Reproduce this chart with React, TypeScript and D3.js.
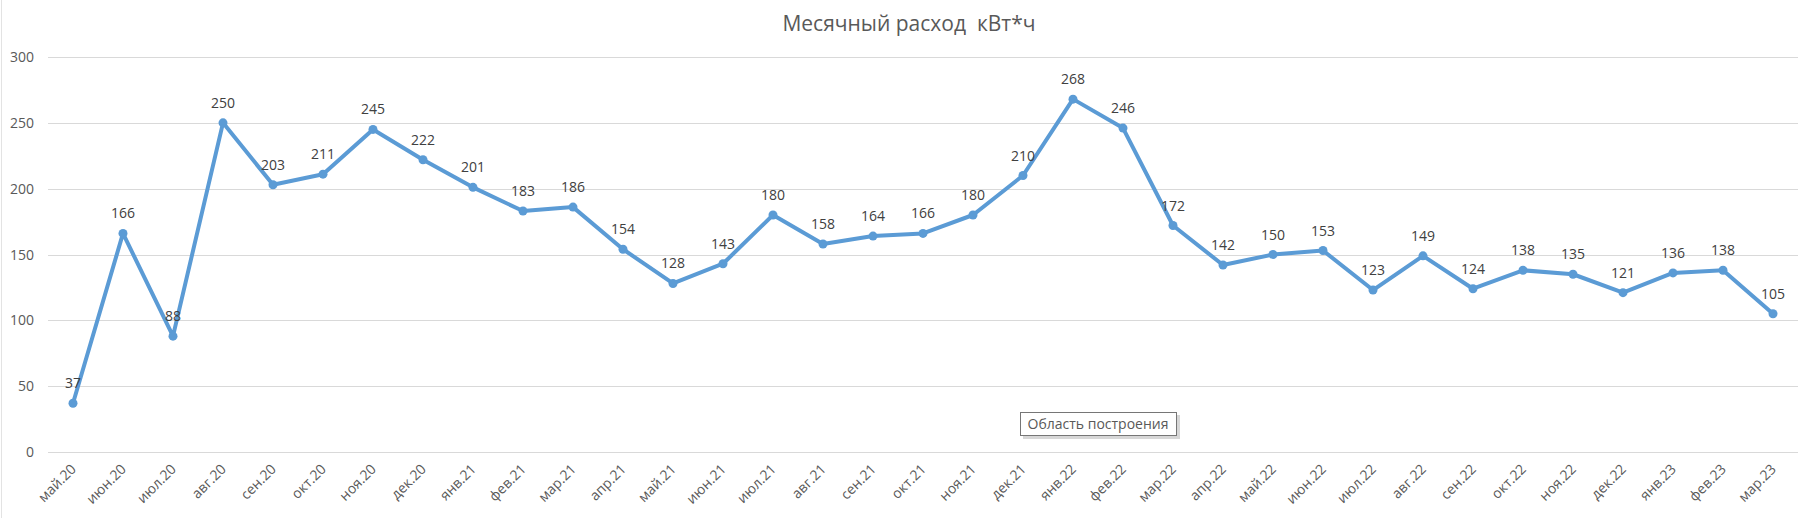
import { useEffect, useRef } from 'react';
import * as d3 from 'd3';

const months = [
  'май.20', 'июн.20', 'июл.20', 'авг.20', 'сен.20', 'окт.20', 'ноя.20', 'дек.20',
  'янв.21', 'фев.21', 'мар.21', 'апр.21', 'май.21', 'июн.21', 'июл.21', 'авг.21',
  'сен.21', 'окт.21', 'ноя.21', 'дек.21', 'янв.22', 'фев.22', 'мар.22', 'апр.22',
  'май.22', 'июн.22', 'июл.22', 'авг.22', 'сен.22', 'окт.22', 'ноя.22', 'дек.22',
  'янв.23', 'фев.23', 'мар.23',
];

const usage = [
  37, 166, 88, 250, 203, 211, 245, 222,
  201, 183, 186, 154, 128, 143, 180, 158,
  164, 166, 180, 210, 268, 246, 172, 142,
  150, 153, 123, 149, 124, 138, 135, 121,
  136, 138, 105,
];

const yTicks = [0, 50, 100, 150, 200, 250, 300];

const title = 'Месячный расход  кВт*ч';
const tooltipText = 'Область построения';

const W = 1815;
const H = 518;

const App = () => {
  const svgRef = useRef<SVGSVGElement | null>(null);

  useEffect(() => {
    if (!svgRef.current) return;
    const svg = d3.select(svgRef.current);
    svg.selectAll('*').remove();

    const margin = { top: 57, right: 17, bottom: 66, left: 48 };
    const font = '"Open Sans", "Noto Sans", sans-serif';

    const x = d3
      .scaleBand<string>()
      .domain(months)
      .range([margin.left, W - margin.right]);

    const y = d3
      .scaleLinear()
      .domain([0, 300])
      .range([H - margin.bottom, margin.top]);

    const cx = (m: string) => (x(m) ?? 0) + x.bandwidth() / 2;

    // left border of chart area
    svg.append('line')
      .attr('x1', 1.5).attr('x2', 1.5)
      .attr('y1', 0).attr('y2', H)
      .attr('stroke', '#e3e3e3');

    // gridlines
    svg.append('g')
      .selectAll('line')
      .data(yTicks)
      .join('line')
      .attr('x1', margin.left)
      .attr('x2', W - margin.right)
      .attr('y1', (d) => Math.round(y(d)) + 0.5)
      .attr('y2', (d) => Math.round(y(d)) + 0.5)
      .attr('stroke', '#d9d9d9')
      .attr('stroke-width', 1);

    // y labels
    svg.append('g')
      .selectAll('text')
      .data(yTicks)
      .join('text')
      .attr('x', margin.left - 14)
      .attr('y', (d) => y(d))
      .attr('dy', '0.36em')
      .attr('text-anchor', 'end')
      .attr('font-family', font)
      .attr('font-size', 14)
      .attr('fill', '#595959')
      .text((d) => d);

    // x labels
    svg.append('g')
      .selectAll('text')
      .data(months)
      .join('text')
      .attr('transform', (d) => `translate(${cx(d) + 4},${y(0) + 18}) rotate(-45)`)
      .attr('text-anchor', 'end')
      .attr('font-family', font)
      .attr('font-size', 14)
      .attr('fill', '#595959')
      .text((d) => d);

    // title
    svg.append('text')
      .attr('x', 909)
      .attr('y', 31)
      .attr('text-anchor', 'middle')
      .attr('font-family', font)
      .attr('font-size', 21)
      .attr('fill', '#595959')
      .style('white-space', 'pre')
      .text(title);

    const line = d3
      .line<number>()
      .x((_, i) => cx(months[i]))
      .y((d) => y(d));

    svg.append('path')
      .datum(usage)
      .attr('fill', 'none')
      .attr('stroke', '#5b9bd5')
      .attr('stroke-width', 4)
      .attr('stroke-linejoin', 'round')
      .attr('stroke-linecap', 'round')
      .attr('d', line);

    svg.append('g')
      .selectAll('circle')
      .data(usage)
      .join('circle')
      .attr('cx', (_, i) => cx(months[i]))
      .attr('cy', (d) => y(d))
      .attr('r', 4.5)
      .attr('fill', '#5b9bd5');

    // data labels
    svg.append('g')
      .selectAll('text')
      .data(usage)
      .join('text')
      .attr('x', (_, i) => cx(months[i]))
      .attr('y', (d) => y(d) - 15)
      .attr('text-anchor', 'middle')
      .attr('font-family', font)
      .attr('font-size', 14)
      .attr('fill', '#404040')
      .text((d) => d);

    // hover tooltip left in the screenshot
    const tip = svg.append('g').attr('transform', 'translate(1020,412)');
    tip.append('rect')
      .attr('x', 3).attr('y', 3)
      .attr('width', 157).attr('height', 24)
      .attr('fill', '#bdbdbd')
      .attr('opacity', 0.6);
    tip.append('rect')
      .attr('x', 0.5).attr('y', 0.5)
      .attr('width', 156).attr('height', 23)
      .attr('fill', '#fff')
      .attr('stroke', '#767676');
    tip.append('text')
      .attr('x', 78)
      .attr('y', 17)
      .attr('text-anchor', 'middle')
      .attr('font-family', font)
      .attr('font-size', 14)
      .attr('fill', '#595959')
      .text(tooltipText);
  }, []);

  return (
    <div style={{ position: 'absolute', left: 0, top: 0 }}>
      <svg ref={svgRef} width={W} height={H} style={{ display: 'block', background: '#fff' }} />
    </div>
  );
};

export default App;
